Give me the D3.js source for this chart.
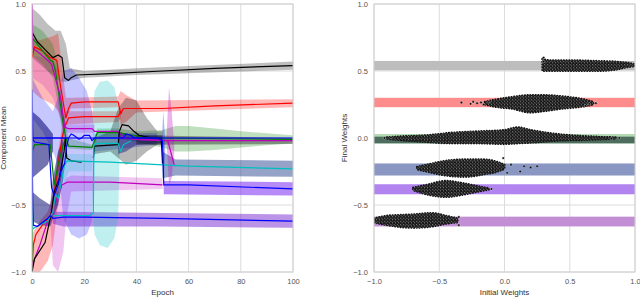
<!DOCTYPE html>
<html>
<head>
<meta charset="utf-8">
<script src="https://cdn.jsdelivr.net/npm/d3@7"></script>
<style>
  body { margin: 0; background: #fff; }
  text { font-family: "Liberation Sans", Arial, sans-serif; }
</style>
</head>
<body>
<script>
// ---------- data: left panel (epoch, value) ----------
var epochTicks = [0, 20, 40, 60, 80, 100];
var valueTicks = [-1.0, -0.5, 0.0, 0.5, 1.0];
var weightTicks = [-1.0, -0.5, 0.0, 0.5, 1.0];

// bands: [epoch, low, high]
var grayTopBand = [[0,0.6,0.97],[3,0.55,0.92],[6,0.5,0.85],[9,0.45,0.8],[11,0.42,0.8],[13,0.42,0.7],[14.5,0.43,0.52],[20,0.45,0.5],[40,0.47,0.52],[100,0.51,0.57]];
var redTopBand = [[0,0.35,0.75],[3,0.3,0.73],[8,0.25,0.76],[10,0.2,0.78],[12,0.1,0.45],[13,0.15,0.3],[15,0.22,0.3],[33,0.23,0.31],[34,0.1,0.35],[36,0.12,0.32],[40,0.19,0.28],[100,0.23,0.29]];
var magentaTopBand = [[0,0.45,0.62],[4,0.4,0.6],[8,0.3,0.58],[10,0.2,0.5],[12,0.05,0.15],[14,0.04,0.1],[24,0.04,0.1]];
var greenTopBand = [[0,0.62,0.85],[4,0.55,0.8],[8,0.45,0.7],[10,0.25,0.55],[12,0.0,0.2],[14,-0.08,0.0],[23,-0.09,-0.05],[25,0.0,0.07],[33,0.0,0.07],[40,-0.03,0.05],[50,-0.07,0.06],[55,-0.1,0.09],[60,-0.1,0.09],[70,-0.09,0.07],[80,-0.07,0.05],[100,-0.04,0.02]];
var blueBigBand = [[0,0.15,0.45],[4,0.05,0.3],[8,-0.1,0.2],[10,-0.2,0.3],[12,-0.6,0.5],[15,-0.72,0.52],[18,-0.75,0.45],[21,-0.72,0.35],[23,-0.62,0.2],[24,-0.1,0.03],[48,-0.05,0.04]];
var navyUpperBand = [[0,-0.3,0.2],[3,-0.25,0.15],[6,-0.2,0.08],[8,-0.1,0.03]];
var navyLowerBand = [[0,-0.62,-0.4],[3,-0.65,-0.45],[7,-0.66,-0.5],[8,-0.6,-0.3],[10,-0.5,-0.1],[12,-0.3,0.0]];
var redLowBand = [[0,-1.0,-0.72],[3,-1.0,-0.62],[6,-0.92,-0.55],[8,-0.8,-0.42],[10,-0.5,-0.1],[12,-0.15,0.15],[13,0.1,0.2],[33,0.12,0.2],[34,0.15,0.22]];
var magentaLowBand = [[7,-0.6,-0.5],[8,-0.95,-0.45],[10,-1.0,-0.4],[12,-0.85,-0.35],[13,-0.62,-0.3],[15,-0.4,-0.28],[50,-0.38,-0.3]];
var purpleLowBand = [[8,-0.64,-0.55],[12,-0.66,-0.55],[50,-0.66,-0.56],[100,-0.67,-0.57]];
var cyanBand = [[23.3,-0.58,0.2],[24,-0.72,0.35],[26,-0.8,0.42],[29,-0.82,0.43],[31.5,-0.75,0.38],[33,-0.6,0.25],[33.6,-0.1,0.0]];
var cyanLineBand = [[12,-0.35,-0.1],[14,-0.25,-0.12],[23,-0.25,-0.12]];
var grayMidBand = [[24,-0.12,0.0],[30,-0.1,0.05],[33,-0.15,0.22],[36,-0.2,0.3],[40,-0.17,0.28],[44,-0.1,0.15],[48,-0.05,0.05],[50,-0.05,0.05]];
var grayZeroBand = [[40,-0.05,0.02],[100,-0.045,0.0]];
var navyMidBand = [[33,-0.12,0.05],[36,-0.1,0.03],[40,-0.05,0.02],[50,-0.04,0.02]];
var steelBand = [[50,-0.3,-0.1],[55,-0.28,-0.16],[100,-0.29,-0.17]];
var purpleMidBand = [[50.5,-0.42,-0.32],[100,-0.43,-0.33]];
var pinkSpikeBand = [[51.5,0,0],[52.5,-0.35,0.38],[53.5,-0.3,0.2],[54.5,-0.1,-0.05]];
var blueSpikeBand = [[49.8,0,0],[50.3,-0.4,0.2],[51,-0.1,0.0]];

// mean lines: [epoch, value]
var blackTop = [[0,0.79],[2,0.72],[5,0.66],[8,0.6],[10,0.62],[11.5,0.6],[12.5,0.45],[14,0.43],[15,0.45],[17,0.47],[30,0.48],[50,0.5],[70,0.52],[100,0.54]];
var redTop = [[0,0.6],[1,0.68],[4,0.65],[7,0.6],[9.5,0.58],[11,0.38],[12.5,0.2],[13,0.15],[14,0.22],[15,0.26],[20,0.27],[33,0.27],[34,0.18],[35,0.22],[50,0.22],[70,0.24],[100,0.26]];
var redLow = [[0,-0.98],[0.5,-0.8],[1.5,-0.72],[5,-0.62],[7,-0.6],[8,-0.5],[10,-0.2],[11.5,0.0],[12.5,0.08],[14,0.15],[20,0.16],[33,0.16],[34,0.2]];
var greenTop = [[0,0.75],[2,0.7],[7,0.58],[8,0.57],[9,0.5],[12,0.1],[13,0.0],[14,-0.06],[23,-0.07],[24,-0.02],[25,0.04],[33,0.04],[36,0.03],[45,0.0],[100,-0.01]];
var greenLow = [[0,-1.0],[0.2,-0.1],[1,-0.05],[7,-0.05],[8.5,-0.35],[10,-0.2],[12,-0.05],[13,0.0]];
var magentaTop = [[0,1.0],[0.3,0.67],[3,0.63],[6,0.58],[7.5,0.55],[11,0.3],[12.5,0.08],[14,0.07],[23,0.07],[24,0.05],[33,0.05],[35,0.0],[40,-0.01],[52,-0.02],[100,-0.02]];
var magentaDrop = [[40,-0.01],[52,-0.02],[54.5,-0.2],[55,-0.21]];
var magentaLow = [[0,-0.95],[3,-0.8],[6,-0.62],[7,-0.58],[9,-0.48],[11.5,-0.35],[13.5,-0.33],[30,-0.33],[50,-0.35]];
var blackLow = [[0,-1.0],[1,-0.9],[5,-0.78],[7.5,-0.55],[8.5,-0.4],[10.5,-0.3],[12.3,-0.1],[12.8,0.0],[13.3,-0.15],[15,-0.17],[19,-0.18]];
var blackMid = [[23.5,-0.15],[24,-0.06],[33,-0.05],[33.5,0.05],[34.5,0.1],[37,0.09],[39,0.05],[41,0.02],[46,0.0],[49.5,0.0],[50,-0.19]];
var cyanMain = [[0,-0.5],[0.3,-0.68],[1,-0.67],[6,-0.62],[8,-0.55],[9,-0.42],[10,-0.45],[11,-0.35],[12.5,-0.2],[13.5,-0.17],[30,-0.18],[50,-0.2],[60,-0.21],[100,-0.23]];
var cyanSecond = [[8,-0.58],[22,-0.58],[23.5,-0.56],[23.7,-0.05],[25,-0.04],[33,-0.04],[34,-0.1],[35,-0.05],[38,-0.02]];
var blueMid = [[0,0.0],[1,-0.03],[6.5,-0.05],[7.5,-0.37],[8.5,-0.43],[10,-0.35],[11,-0.25],[12.5,-0.19],[13.2,-0.07],[14,0.0]];
var blueLow = [[0,0.0],[0.3,-0.5],[0.5,-0.65],[2,-0.66],[6,-0.6],[7,-0.58],[8,-0.6],[12,-0.59],[20,-0.59],[50,-0.6],[100,-0.62]];
var blueDrop = [[0,0.0],[48,0.0],[50,-0.02],[50.5,-0.35],[60,-0.35],[100,-0.38]];
var blueTop = [[0,0.36],[0.3,0.0],[14,0.0],[15,0.03],[16,0.02],[18,-0.01],[19,0.0],[20,0.02],[22,0.02],[23,-0.02],[24,0.0],[35,0.0],[36,0.03],[38,0.02],[39,0.0],[100,0.0]];

// ---------- data: right panel ----------
// horizontal bands: [low, high]
var finalBandGray = [0.505, 0.575];
var finalBandRed = [0.23, 0.30];
var finalBandGreen = [-0.04, 0.03];
var finalBandGreenDark = [-0.04, 0.01];
var finalBandSteel = [-0.28, -0.19];
var finalBandPurple = [-0.42, -0.345];
var finalBandViolet = [-0.66, -0.587];
// dense point clouds: [initial, low, high]
var grayCluster = [[0.29,0.5,0.59],[0.35,0.5,0.58],[0.5,0.5,0.58],[0.7,0.5,0.575],[0.85,0.51,0.57],[0.95,0.53,0.56],[1.0,0.535,0.55]];
var redCluster = [[-0.15,0.25,0.27],[-0.05,0.23,0.29],[0.05,0.22,0.305],[0.2,0.19,0.32],[0.3,0.2,0.32],[0.45,0.22,0.31],[0.6,0.235,0.29],[0.68,0.25,0.27]];
var greenCluster = [[-0.9,-0.005,0.005],[-0.8,-0.015,0.012],[-0.6,-0.03,0.02],[-0.4,-0.04,0.04],[-0.2,-0.04,0.05],[0.0,-0.045,0.06],[0.1,-0.04,0.08],[0.2,-0.035,0.06],[0.4,-0.02,0.03],[0.6,-0.015,0.015],[0.85,-0.005,0.005]];
var steelCluster = [[-0.67,-0.235,-0.215],[-0.6,-0.25,-0.2],[-0.45,-0.28,-0.17],[-0.3,-0.29,-0.16],[-0.15,-0.27,-0.16],[-0.05,-0.25,-0.18],[0.0,-0.23,-0.2]];
var purpleCluster = [[-0.7,-0.39,-0.37],[-0.6,-0.42,-0.35],[-0.45,-0.44,-0.32],[-0.3,-0.42,-0.34],[-0.2,-0.4,-0.36],[-0.12,-0.385,-0.375]];
var violetCluster = [[-1.0,-0.63,-0.6],[-0.9,-0.65,-0.58],[-0.7,-0.67,-0.57],[-0.55,-0.66,-0.56],[-0.45,-0.64,-0.58],[-0.36,-0.63,-0.6]];
// loose points: [initial, final]
var loosePoints = [[-0.33,0.265],[-0.26,0.255],[-0.24,0.27],[-0.21,0.26],[-0.18,0.265],[-0.16,0.25],[-0.12,0.27],
  [0.02,-0.26],[0.05,-0.2],[0.12,-0.25],[0.15,-0.21],[0.2,-0.22],[0.25,-0.21],[-0.01,-0.15],
  [-0.35,-0.65],[-0.35,-0.59],[-0.1,-0.38],[0.3,0.57],[0.65,0.255],
  [-0.92,0.0],[-0.87,0.004],[0.82,-0.004],[0.88,0.0],[0.62,0.24],[0.7,0.26],[0.3,0.6]];

// ---------- drawing ----------
var svg = d3.select("body").append("svg").attr("width", 640).attr("height", 297);

var xE = d3.scaleLinear().domain([0, 100]).range([32, 293]);
var yL = d3.scaleLinear().domain([-1, 1]).range([272, 4]);
var xW = d3.scaleLinear().domain([-1, 1]).range([374, 635]);
var yR = d3.scaleLinear().domain([-1, 1]).range([272, 4]);

var defs = svg.append("defs");
defs.append("clipPath").attr("id", "clipL").append("rect")
    .attr("x", 32).attr("y", 4).attr("width", 261).attr("height", 268);
defs.append("clipPath").attr("id", "clipR").append("rect")
    .attr("x", 374).attr("y", 4).attr("width", 261).attr("height", 268);
// white speckles between the dense black points
var pat = defs.append("pattern").attr("id", "speckle")
    .attr("patternUnits", "userSpaceOnUse").attr("width", 3.2).attr("height", 3.2);
pat.append("rect").attr("width", 3.2).attr("height", 3.2).attr("fill", "#151515");
[[0.5, 0.6], [2.1, 2.2], [1.6, 0.9]].forEach(function (c, i) {
    pat.append("circle").attr("cx", c[0]).attr("cy", c[1]).attr("r", i === 2 ? 0.3 : 0.45)
        .attr("fill", "#fff").attr("fill-opacity", 0.85);
});

function drawFrame(xs, ys, xt, yt) {
    var g = svg.append("g");
    g.selectAll(".gx").data(xt).enter().append("line")
        .attr("x1", function (d) { return xs(d); }).attr("x2", function (d) { return xs(d); })
        .attr("y1", ys.range()[1]).attr("y2", ys.range()[0])
        .attr("stroke", "#dcdcdc").attr("stroke-width", 1);
    g.selectAll(".gy").data(yt).enter().append("line")
        .attr("y1", function (d) { return ys(d); }).attr("y2", function (d) { return ys(d); })
        .attr("x1", xs.range()[0]).attr("x2", xs.range()[1])
        .attr("stroke", "#dcdcdc").attr("stroke-width", 1);
}

function drawAxes(xs, ys, xt, yt, xLabel, yLabel, yLabelX) {
    var fmt = function (d) { return d3.format(".1f")(d).replace("-", "\u2212"); };
    var ax = svg.append("g").attr("transform", "translate(0," + (ys.range()[0] + 4) + ")")
        .call(d3.axisBottom(xs).tickValues(xt).tickSize(0).tickFormat(xt === epochTicks ? d3.format("d") : fmt));
    var ay = svg.append("g").attr("transform", "translate(" + (xs.range()[0] - 3) + ",0)")
        .call(d3.axisLeft(ys).tickValues(yt).tickSize(0).tickFormat(fmt));
    [ax, ay].forEach(function (a) {
        a.select(".domain").remove();
        a.selectAll("text").attr("fill", "#555").attr("font-size", "7.5px")
            .attr("font-family", "'Liberation Sans', Arial, sans-serif");
    });
    svg.append("rect").attr("x", xs.range()[0]).attr("y", ys.range()[1])
        .attr("width", xs.range()[1] - xs.range()[0]).attr("height", ys.range()[0] - ys.range()[1])
        .attr("fill", "none").attr("stroke", "#d0d0d0").attr("stroke-width", 1);
    svg.append("text").attr("x", (xs.range()[0] + xs.range()[1]) / 2).attr("y", 295)
        .attr("text-anchor", "middle").attr("font-size", "8px").attr("fill", "#333").text(xLabel);
    svg.append("text").attr("transform", "translate(" + yLabelX + "," + ((ys.range()[0] + ys.range()[1]) / 2) + ") rotate(-90)")
        .attr("text-anchor", "middle").attr("font-size", "8px").attr("fill", "#333").text(yLabel);
}

// left panel
drawFrame(xE, yL, epochTicks, valueTicks);

var bandArea = d3.area()
    .x(function (d) { return xE(d[0]); })
    .y0(function (d) { return yL(d[1]); })
    .y1(function (d) { return yL(d[2]); });

var leftBands = [
    { data: grayTopBand, fill: "#000000", op: 0.25 },
    { data: redTopBand, fill: "#ff0000", op: 0.28 },
    { data: magentaTopBand, fill: "#bf00bf", op: 0.2 },
    { data: greenTopBand, fill: "#008000", op: 0.25 },
    { data: redLowBand, fill: "#ff0000", op: 0.28 },
    { data: magentaLowBand, fill: "#bf00bf", op: 0.22 },
    { data: blueBigBand, fill: "#0000ff", op: 0.22 },
    { data: navyUpperBand, fill: "#000070", op: 0.55 },
    { data: navyLowerBand, fill: "#000070", op: 0.5 },
    { data: purpleLowBand, fill: "#7a2ad0", op: 0.5 },
    { data: cyanLineBand, fill: "#00bfbf", op: 0.2 },
    { data: cyanBand, fill: "#00bfbf", op: 0.25 },
    { data: grayMidBand, fill: "#000000", op: 0.28 },
    { data: navyMidBand, fill: "#000070", op: 0.4 },
    { data: grayZeroBand, fill: "#000000", op: 0.35 },
    { data: steelBand, fill: "#2a4890", op: 0.5 },
    { data: purpleMidBand, fill: "#7a2af0", op: 0.55 },
    { data: blueSpikeBand, fill: "#0000ff", op: 0.3 },
    { data: pinkSpikeBand, fill: "#bf00bf", op: 0.3 }
];

var gBands = svg.append("g").attr("clip-path", "url(#clipL)");
gBands.selectAll("path").data(leftBands).enter().append("path")
    .attr("d", function (d) { return bandArea(d.data); })
    .attr("fill", function (d) { return d.fill; })
    .attr("fill-opacity", function (d) { return d.op; })
    .attr("stroke", "none");

var meanLine = d3.line()
    .x(function (d) { return xE(d[0]); })
    .y(function (d) { return yL(d[1]); });

var leftLines = [
    { data: blackTop, color: "#000000" },
    { data: redTop, color: "#ff0000" },
    { data: redLow, color: "#ff0000" },
    { data: greenLow, color: "#008000" },
    { data: greenTop, color: "#008000" },
    { data: magentaDrop, color: "#bf00bf" },
    { data: magentaTop, color: "#bf00bf" },
    { data: magentaLow, color: "#bf00bf" },
    { data: blackLow, color: "#000000" },
    { data: blackMid, color: "#000000" },
    { data: cyanSecond, color: "#00bfbf" },
    { data: cyanMain, color: "#00bfbf" },
    { data: blueMid, color: "#0000ff" },
    { data: blueLow, color: "#0000ff" },
    { data: blueDrop, color: "#0000ff" },
    { data: blueTop, color: "#0000ff" }
];

var gLines = svg.append("g").attr("clip-path", "url(#clipL)");
gLines.selectAll("path").data(leftLines).enter().append("path")
    .attr("d", function (d) { return meanLine(d.data); })
    .attr("fill", "none")
    .attr("stroke", function (d) { return d.color; })
    .attr("stroke-width", 1.2)
    .attr("stroke-linejoin", "round");

drawAxes(xE, yL, epochTicks, valueTicks, "Epoch", "Component Mean", 6);

// right panel
drawFrame(xW, yR, weightTicks, valueTicks);

var rightBands = [
    { band: finalBandGray, fill: "#bdbdbd" },
    { band: finalBandRed, fill: "#ff8c8c" },
    { band: finalBandGreen, fill: "#b3dbb3" },
    { band: finalBandGreenDark, fill: "#4d6d5e" },
    { band: finalBandSteel, fill: "#8a97c3" },
    { band: finalBandPurple, fill: "#b184f0" },
    { band: finalBandViolet, fill: "#c28fd4" }
];
var gRB = svg.append("g").attr("clip-path", "url(#clipR)");
gRB.selectAll("rect").data(rightBands).enter().append("rect")
    .attr("x", xW(-1)).attr("width", xW(1) - xW(-1))
    .attr("y", function (d) { return yR(d.band[1]); })
    .attr("height", function (d) { return yR(d.band[0]) - yR(d.band[1]); })
    .attr("fill", function (d) { return d.fill; });

var cloudArea = d3.area()
    .x(function (d) { return xW(d[0]); })
    .y0(function (d) { return yR(d[1]); })
    .y1(function (d) { return yR(d[2]); })
    .curve(d3.curveMonotoneX);

var clusters = [grayCluster, redCluster, greenCluster, steelCluster, purpleCluster, violetCluster];
var gC = svg.append("g").attr("clip-path", "url(#clipR)");
// ragged outer edge: a row of dots along the outline
gC.selectAll("path.edge").data(clusters).enter().append("path")
    .attr("class", "edge")
    .attr("d", function (d) { return cloudArea(d); })
    .attr("fill", "none")
    .attr("stroke", "#111").attr("stroke-width", 2.2)
    .attr("stroke-dasharray", "0.1,2.6").attr("stroke-linecap", "round");
gC.selectAll("path.core").data(clusters).enter().append("path")
    .attr("class", "core")
    .attr("d", function (d) { return cloudArea(d); })
    .attr("fill", "url(#speckle)")
    .attr("stroke", "none");

gC.selectAll("circle").data(loosePoints).enter().append("circle")
    .attr("cx", function (d) { return xW(d[0]); })
    .attr("cy", function (d) { return yR(d[1]); })
    .attr("r", 1.2)
    .attr("fill", "#000").attr("stroke", "#fff").attr("stroke-width", 0.35);

drawAxes(xW, yR, weightTicks, valueTicks, "Initial Weights", "Final Weights", 347);
</script>
</body>
</html>
